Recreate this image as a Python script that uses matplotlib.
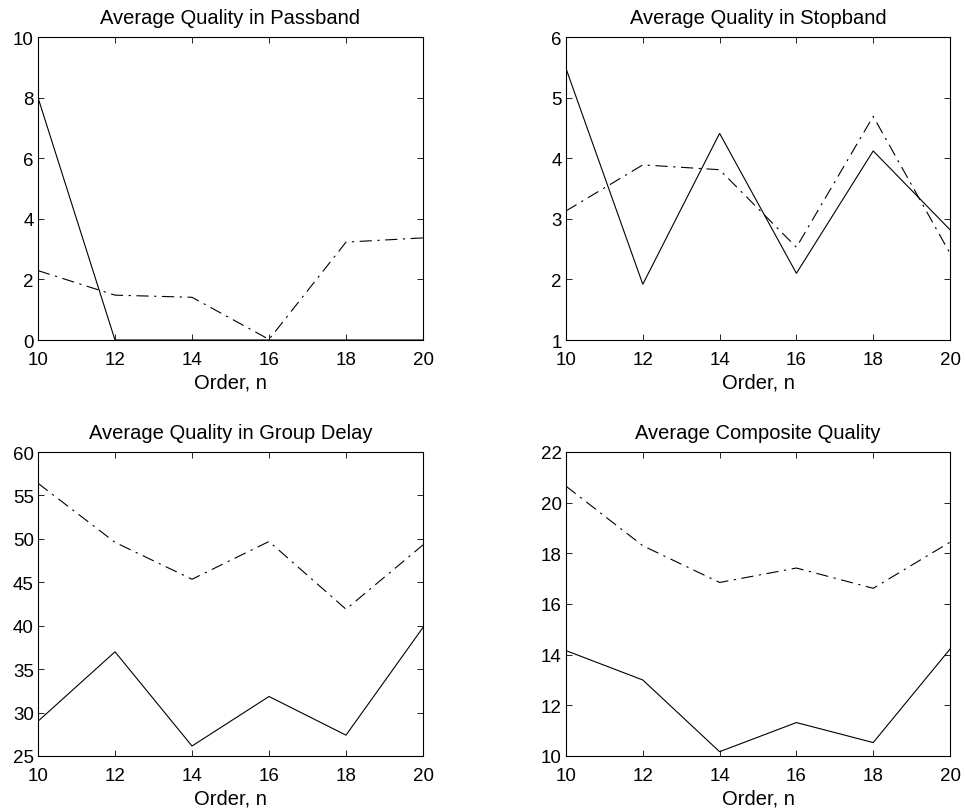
import matplotlib
matplotlib.use("Agg")
import matplotlib.pyplot as plt

plt.rcParams['font.family'] = ['Liberation Sans', 'DejaVu Sans']

order = [10, 12, 14, 16, 18, 20]

pass_solid = [8.0, 0.0, 0.0, 0.0, 0.0, 0.0]
pass_dash = [2.29, 1.48, 1.41, 0.02, 3.23, 3.37]

stop_solid = [5.48, 1.92, 4.41, 2.10, 4.12, 2.82]
stop_dash = [3.13, 3.89, 3.81, 2.53, 4.69, 2.43]

gd_solid = [29.0, 37.0, 26.15, 31.85, 27.4, 39.8]
gd_dash = [56.4, 49.6, 45.35, 49.7, 41.9, 49.3]

comp_solid = [14.16, 13.0, 10.17, 11.32, 10.53, 14.22]
comp_dash = [20.65, 18.3, 16.85, 17.42, 16.62, 18.44]

titles = ["Average Quality in Passband", "Average Quality in Stopband",
          "Average Quality in Group Delay", "Average Composite Quality"]
ylims = [(0, 10), (1, 6), (25, 60), (10, 22)]
yticks = [[0, 2, 4, 6, 8, 10], [1, 2, 3, 4, 5, 6],
          [25, 30, 35, 40, 45, 50, 55, 60], [10, 12, 14, 16, 18, 20, 22]]
series = [(pass_solid, pass_dash), (stop_solid, stop_dash),
          (gd_solid, gd_dash), (comp_solid, comp_dash)]
xlabel = "Order, n"

W, H = 965, 812
fig = plt.figure(figsize=(W / 100, H / 100), dpi=100)
rects = [(38, 38, 423, 341), (566, 38, 950, 341),
         (38, 453, 423, 757), (566, 453, 950, 757)]

fs_tick = 13.5
fs_text = 14.5
for i, (x0, y0, x1, y1) in enumerate(rects):
    ax = fig.add_axes([x0 / W, 1 - y1 / H, (x1 - x0) / W, (y1 - y0) / H])
    s, d = series[i]
    ax.plot(order, s, color='black', lw=0.8, solid_joinstyle='miter')
    ax.plot(order, d, color='black', lw=0.8, dashes=(11, 5, 2, 5))
    ax.set_xlim(10, 20)
    ax.set_ylim(*ylims[i])
    ax.set_xticks(order)
    ax.set_yticks(yticks[i])
    ax.tick_params(direction='in', top=True, right=True, length=4, width=0.6,
                   labelsize=fs_tick)
    ax.tick_params(axis='x', pad=8)
    ax.tick_params(axis='y', pad=3)
    for sp in ax.spines.values():
        sp.set_linewidth(0.8)
    ax.set_title(titles[i], fontsize=fs_text, pad=10)
    ax.set_xlabel(xlabel, fontsize=fs_text, labelpad=3)

fig.savefig("out.png", dpi=100)
